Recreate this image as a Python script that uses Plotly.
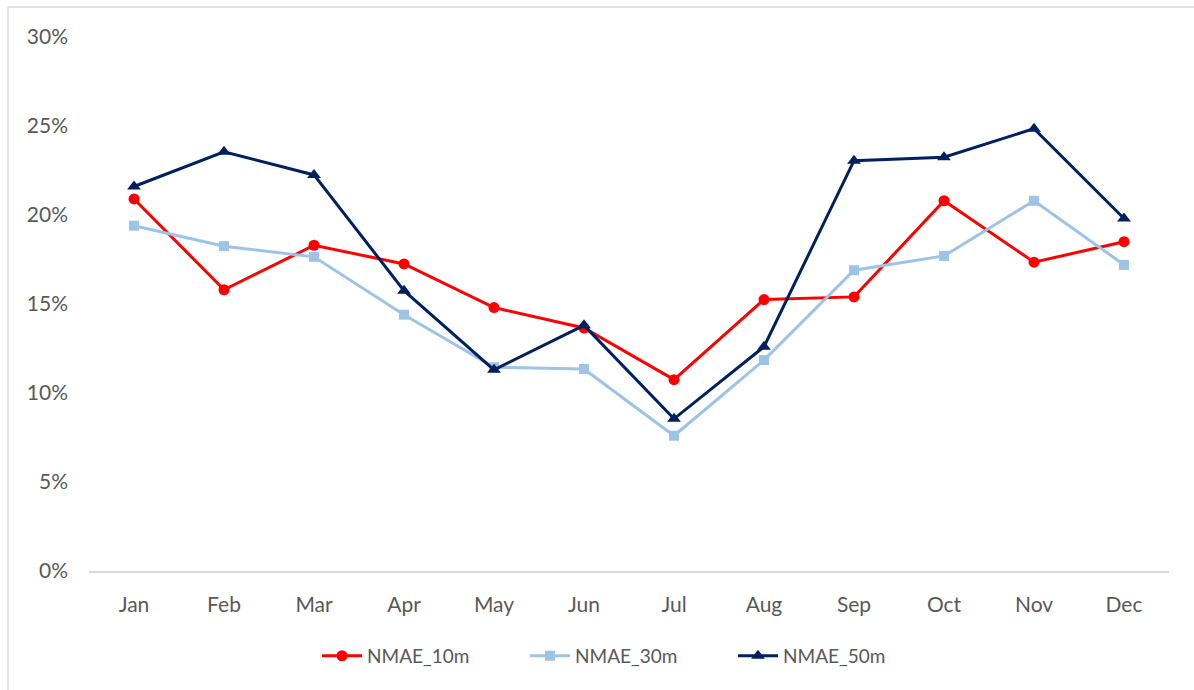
import plotly.graph_objects as go

months = ["Jan", "Feb", "Mar", "Apr", "May", "Jun", "Jul", "Aug", "Sep", "Oct", "Nov", "Dec"]
nmae_10m = [20.9, 15.8, 18.3, 17.25, 14.8, 13.65, 10.75, 15.25, 15.4, 20.8, 17.35, 18.5]
nmae_30m = [19.4, 18.25, 17.65, 14.4, 11.45, 11.35, 7.6, 11.85, 16.9, 17.7, 20.8, 17.2]
nmae_50m = [21.6, 23.55, 22.25, 15.75, 11.3, 13.8, 8.55, 12.6, 23.05, 23.25, 24.85, 19.8]

font_family = "Lato, 'Open Sans', sans-serif"
gray = "#595959"

fig = go.Figure()
series = [
    ("NMAE_10m", nmae_10m, "#FF0000", "circle", 11),
    ("NMAE_30m", nmae_30m, "#9DC3E6", "square", 10),
    ("NMAE_50m", nmae_50m, "#002060", "triangle-up", 12),
]
for name, vals, col, sym, sz in series:
    fig.add_trace(go.Scatter(
        x=months, y=[v / 100 for v in vals], name=name, mode="lines+markers",
        line=dict(color=col, width=3),
        marker=dict(symbol=sym, size=sz, color=col),
    ))

fig.update_layout(
    width=1194, height=690,
    margin=dict(l=89, r=25, t=37, b=119),
    paper_bgcolor="white", plot_bgcolor="white",
    font=dict(family=font_family, size=21, color=gray),
    showlegend=True,
    legend=dict(orientation="h", x=0.5, xanchor="center", y=-0.159, yanchor="middle",
                font=dict(size=19, color=gray), itemwidth=40,
                entrywidth=153, entrywidthmode="pixels"),
    xaxis=dict(showgrid=False, showline=True, linecolor="#D9D9D9", linewidth=1.5,
               ticks="", ticklabelstandoff=14, tickfont=dict(size=21, color=gray),
               range=[-0.5, 11.5]),
    yaxis=dict(range=[0, 0.30], dtick=0.05, tickformat=".0%", showgrid=False,
               zeroline=False, showline=False, ticks="", ticklabelstandoff=20,
               tickfont=dict(size=21, color=gray)),
    shapes=[
        dict(type="line", xref="paper", yref="paper", x0=-0.075, x1=-0.075,
             y0=-0.23, y1=1.0562, line=dict(color="#D9D9D9", width=1.5)),
        dict(type="line", xref="paper", yref="paper", x0=-0.075, x1=1.03,
             y0=1.0562, y1=1.0562, line=dict(color="#D9D9D9", width=1.5)),
    ],
)

fig.write_html("out.html", config={"displayModeBar": False},
               post_script="document.body.style.margin='0';")
